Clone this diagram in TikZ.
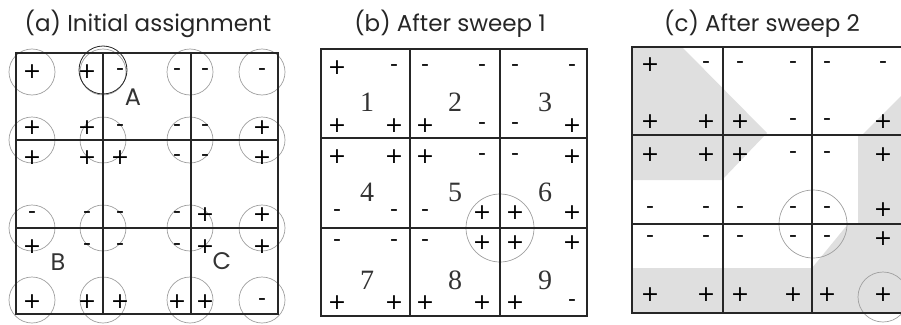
\documentclass[tikz,border=0pt]{standalone}
\usepackage{fontspec}
\newfontfamily\gothic{Poppins}
\newfontfamily\timesfont{Liberation Serif}
\newfontfamily\signfont{DejaVu Sans}

\begin{document}
\begin{tikzpicture}[
    x=1pt, y=-1pt,
    title/.style={font=\gothic\fontsize{23}{26}\selectfont, text=black!85},
    cellgrid/.style={line width=1.6pt, draw=black!85},
    ring/.style={draw=gray!75, line width=0.7pt},
    darkring/.style={draw=black!85, line width=0.8pt},
    sgn/.style={font=\signfont\fontsize{22}{22}\selectfont, inner sep=0pt, text=black},
    tag/.style={font=\gothic\fontsize{24}{26}\selectfont, inner sep=0pt, text=black!80},
    digit/.style={font=\timesfont\fontsize{28}{30}\selectfont, inner sep=0pt, text=black!80},
    shade/.style={fill=gray!25, draw=none},
  ]
  \useasboundingbox (0,0) rectangle (901,324);

  % ============================================================
  % (a) Initial assignment
  % ============================================================
  \node[title] (ta) at (148,24) {(a) Initial assignment};

  % Vertex circles
  \foreach \x in {32,103,190,262} {
    \foreach \y in {72,140,228,300} {
      \draw[ring] (\x,\y) circle[radius=23pt];
    }
  }
  \draw[darkring] (103,70) circle[radius=24pt];

  % Grid
  \draw[cellgrid] (16,53) rectangle (278,314);
  \foreach \x in {103,191} \draw[cellgrid] (\x,53) -- (\x,314);
  \foreach \y in {140,228} \draw[cellgrid] (16,\y) -- (278,\y);

  % Signs
  \foreach \r/\y/\sa/\sb/\sc/\sd/\se/\sf in {
      1/72/+/+/-/-/-/-, 2/128/+/+/-/-/-/+, 3/158/+/+/+/-/-/+,
      4/215/-/-/-/-/+/+, 5/247/+/-/-/-/+/+, 6/302/+/+/+/+/+/-} {
    \node[sgn] (a-\r-1) at (32,\y) {\sa};
    \node[sgn] (a-\r-2) at (87,\y) {\sb};
    \node[sgn] (a-\r-3) at (120,\y) {\sc};
    \node[sgn] (a-\r-4) at (177,\y) {\sd};
    \node[sgn] (a-\r-5) at (205,\y) {\se};
    \node[sgn] (a-\r-6) at (262,\y) {\sf};
  }

  % Labels
  \node[tag] (lA) at (133,97) {A};
  \node[tag] (lB) at (58,262) {B};
  \node[tag] (lC) at (222,261) {C};

  % ============================================================
  % (b) After sweep 1
  % ============================================================
  \node[title] (tb) at (450,24) {(b) After sweep 1};

  \draw[ring] (500,228) circle[radius=34pt];

  % Grid
  \draw[cellgrid] (321,49) rectangle (587,316);
  \foreach \x in {410,500} \draw[cellgrid] (\x,49) -- (\x,316);
  \foreach \y in {138,228} \draw[cellgrid] (321,\y) -- (587,\y);

  % Signs
  \foreach \r/\y/\sa/\sb/\sc/\sd/\se/\sf in {
      1/68/+/-/-/-/-/-, 2/126/+/+/+/-/-/+, 3/157/+/+/+/-/-/+,
      4/213/-/-/-/+/+/+, 5/243/-/-/-/+/+/+, 6/303/+/+/+/+/+/-} {
    \node[sgn] (b-\r-1) at (337,\y) {\sa};
    \node[sgn] (b-\r-2) at (394,\y) {\sb};
    \node[sgn] (b-\r-3) at (425,\y) {\sc};
    \node[sgn] (b-\r-4) at (482,\y) {\sd};
    \node[sgn] (b-\r-5) at (515,\y) {\se};
    \node[sgn] (b-\r-6) at (572,\y) {\sf};
  }

  % Cell numbers
  \foreach \n/\x/\y in {1/367/102, 2/455/102, 3/545/102,
                        4/367/192, 5/455/192, 6/545/192,
                        7/367/280, 8/455/280, 9/545/280} {
    \node[digit] (cell\n) at (\x,\y) {\n};
  }

  % ============================================================
  % (c) After sweep 2
  % ============================================================
  \node[title] (tc) at (762,24) {(c) After sweep 2};

  % Shaded regions
  \fill[shade] (632,47) -- (682,47) -- (767,133) -- (722,180) -- (632,180) -- cycle;
  \fill[shade] (902,95) -- (862,135) -- (858,135) -- (858,224) -- (848,224)
    -- (812,268) -- (632,268) -- (632,313) -- (902,313) -- cycle;

  \draw[ring] (813,224) circle[radius=34pt];
  \draw[ring] (883,297) circle[radius=25pt];

  % Grid
  \draw[cellgrid] (632,47) rectangle (902,313);
  \foreach \x in {723,812} \draw[cellgrid] (\x,47) -- (\x,313);
  \foreach \y in {135,224} \draw[cellgrid] (632,\y) -- (902,\y);

  % Signs
  \foreach \r/\y/\sa/\sb/\sc/\sd/\se/\sf in {
      1/65/+/-/-/-/-/-, 2/122/+/+/+/-/-/+, 3/155/+/+/+/-/-/+,
      4/210/-/-/-/-/-/+, 5/239/-/-/-/-/-/+, 6/295/+/+/+/+/+/+} {
    \node[sgn] (c-\r-1) at (650,\y) {\sa};
    \node[sgn] (c-\r-2) at (706,\y) {\sb};
    \node[sgn] (c-\r-3) at (740,\y) {\sc};
    \node[sgn] (c-\r-4) at (793,\y) {\sd};
    \node[sgn] (c-\r-5) at (827,\y) {\se};
    \node[sgn] (c-\r-6) at (883,\y) {\sf};
  }

\end{tikzpicture}
\end{document}
